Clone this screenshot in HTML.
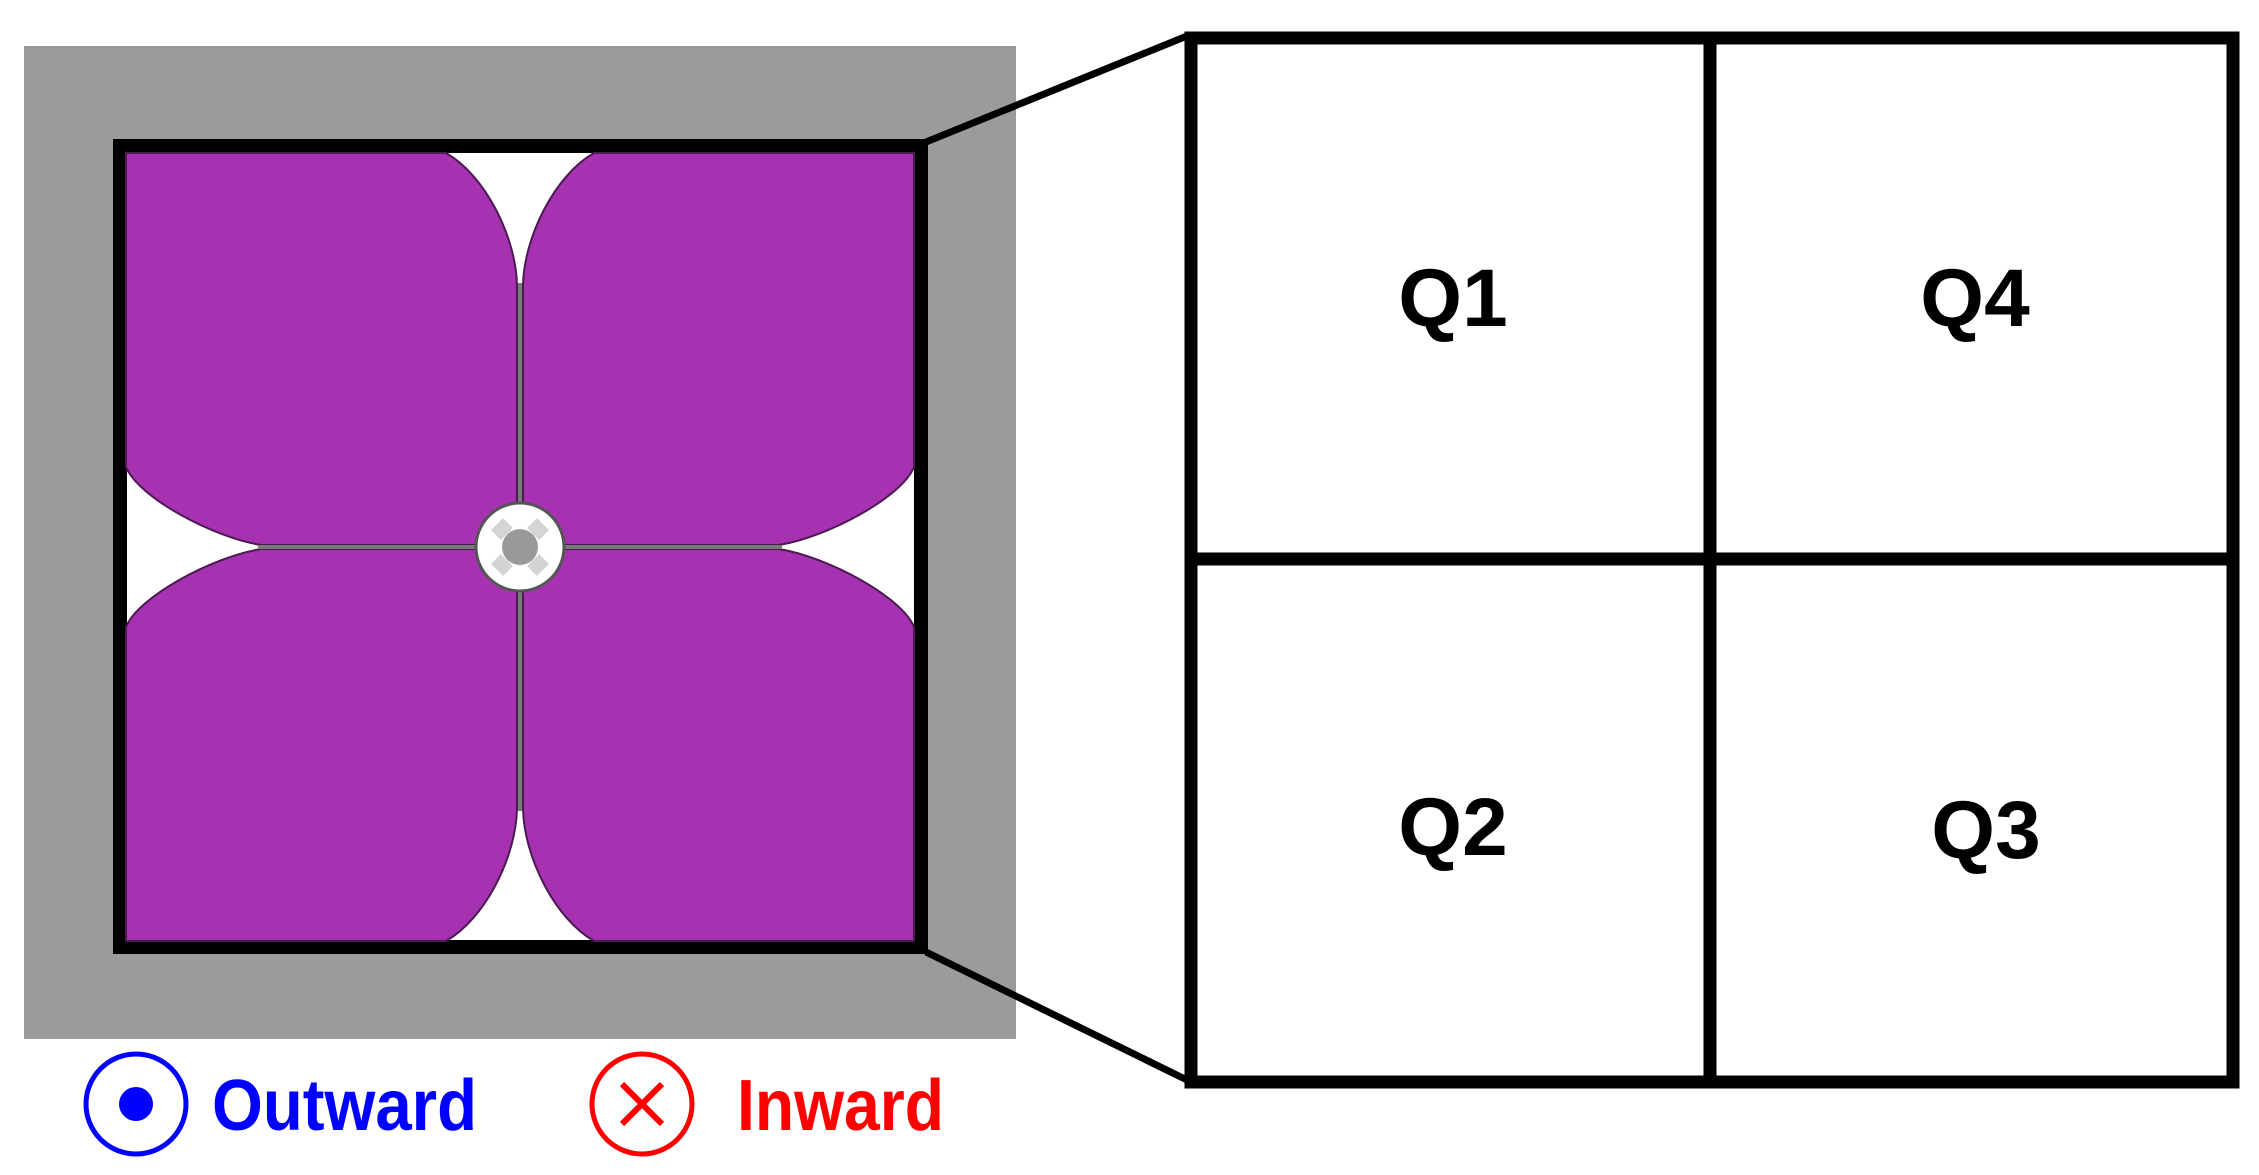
<!DOCTYPE html>
<html><head><meta charset="utf-8"><style>
html,body{margin:0;padding:0;background:#fff;}
svg{display:block;}
</style></head><body>
<svg width="2259" height="1175" viewBox="0 0 2259 1175" xmlns="http://www.w3.org/2000/svg">
<rect x="24" y="46" width="992" height="993" fill="#9b9b9b"/>
<rect x="120" y="146" width="801" height="801" fill="#fff" stroke="#000" stroke-width="14"/>
<g transform="translate(520,547)">
  <defs>
    <path id="p" d="M-394,-394 H-74 C-35,-372 -4,-310 -3,-262 V-2 H-259 C-308,-10 -382,-50 -394,-80 Z" fill="#a632b2" stroke="#4a1a50" stroke-width="2"/>
  </defs>
  <use href="#p"/>
  <use href="#p" transform="scale(-1,1)"/>
  <use href="#p" transform="scale(1,-1)"/>
  <use href="#p" transform="scale(-1,-1)"/>
  <line x1="0" y1="-264" x2="0" y2="264" stroke="#7a7a7a" stroke-width="4"/>
  <line x1="-262" y1="0" x2="262" y2="0" stroke="#7a7a7a" stroke-width="4"/>
  <circle r="44" fill="#fff" stroke="#555" stroke-width="3"/>
  <g stroke="#d4d4d4" stroke-width="14">
    <line x1="-12" y1="-24" x2="-24" y2="-12"/>
    <line x1="12" y1="-24" x2="24" y2="-12"/>
    <line x1="-12" y1="24" x2="-24" y2="12"/>
    <line x1="12" y1="24" x2="24" y2="12"/>
  </g>
  <circle r="18" fill="#999"/>
</g>
<line x1="926" y1="142" x2="1187" y2="36" stroke="#000" stroke-width="7"/>
<line x1="926" y1="952" x2="1187" y2="1080" stroke="#000" stroke-width="7"/>
<rect x="1191" y="38" width="1042" height="1044" fill="#fff" stroke="#000" stroke-width="13"/>
<line x1="1710" y1="38" x2="1710" y2="1082" stroke="#000" stroke-width="13"/>
<line x1="1191" y1="559" x2="2233" y2="559" stroke="#000" stroke-width="13"/>
<g font-family="Liberation Sans, sans-serif" font-weight="bold" font-size="82" text-anchor="middle" fill="#000">
  <text x="1453" y="326">Q1</text>
  <text x="1975" y="326">Q4</text>
  <text x="1453" y="855">Q2</text>
  <text x="1986" y="858">Q3</text>
</g>
<circle cx="136" cy="1104" r="50" fill="none" stroke="#0000ff" stroke-width="5"/>
<circle cx="136" cy="1104" r="17" fill="#0000ff"/>
<text x="212" y="1130" font-family="Liberation Sans, sans-serif" font-weight="bold" font-size="72" fill="#0000ff" textLength="265" lengthAdjust="spacingAndGlyphs">Outward</text>
<circle cx="642" cy="1104" r="50" fill="none" stroke="#ff0000" stroke-width="5"/>
<line x1="622" y1="1084" x2="662" y2="1124" stroke="#ff0000" stroke-width="6"/>
<line x1="662" y1="1084" x2="622" y2="1124" stroke="#ff0000" stroke-width="6"/>
<text x="737" y="1130" font-family="Liberation Sans, sans-serif" font-weight="bold" font-size="72" fill="#ff0000" textLength="207" lengthAdjust="spacingAndGlyphs">Inward</text>
</svg>
</body></html>
